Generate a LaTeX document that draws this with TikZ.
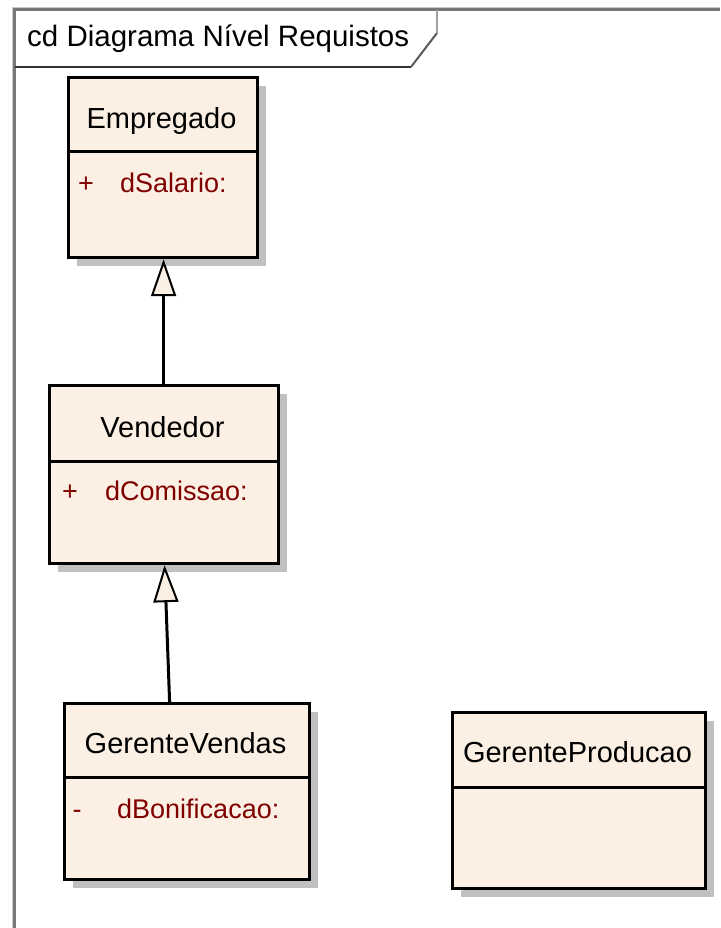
\documentclass[tikz,border=0pt]{standalone}
\usepackage{fontspec}
\setmainfont{Liberation Sans}
\usetikzlibrary{arrows.meta,shadows}
\definecolor{boxfill}{RGB}{251,240,227}
\definecolor{attrred}{RGB}{128,0,0}
\definecolor{shadowgrey}{RGB}{192,192,192}
\definecolor{framegrey}{RGB}{120,120,120}
\begin{document}
\begin{tikzpicture}[x=1pt,y=-1pt,
  classbox/.style={draw=black, line width=3.2pt, fill=boxfill, anchor=north west, inner sep=0pt,
     drop shadow={shadow xshift=8pt, shadow yshift=-8pt, fill=shadowgrey, opacity=1}},
  divider/.style={draw=black, line width=3pt},
  titletext/.style={font=\fontsize{29}{31}\selectfont, anchor=base, inner sep=0pt, text=black},
  attrtext/.style={font=\fontsize{27}{29}\selectfont, anchor=base west, inner sep=0pt, text=attrred},
  vistext/.style={font=\fontsize{27}{29}\selectfont, anchor=base, inner sep=0pt, text=attrred},
  gen/.style={draw=black, line width=3pt, -{Triangle[open, fill=boxfill, width=25pt, length=37pt, line width=2pt]}},
]
\useasboundingbox (0,0) rectangle (720,928);
\fill[white] (0,0) rectangle (720,928);
% frame
\draw[framegrey!40, line width=1.5pt] (12.5,928) -- (12.5,7.5) -- (720,7.5);
\draw[framegrey, line width=2.2pt] (14.5,928) -- (14.5,9.5) -- (720,9.5);
\draw[black!80, line width=2.4pt] (14.5,67) -- (411,67);
\draw[black!65, line width=2pt] (411,67) -- (437,33);
\draw[framegrey!70, line width=2.4pt] (437,33) -- (437,10);
\node[font=\fontsize{29.5}{31}\selectfont, anchor=base west, inner sep=0pt] (hdr) at (27,47) {cd Diagrama Nível Requistos};

% Empregado
\node[classbox, minimum width=189pt, minimum height=180pt] (emp) at (67,76) {};
\draw[divider] (67,152) -- (256,152);
\node[titletext] (empT) at (161.5,129) {Empregado};
\node[vistext] (empV) at (86,193) {+};
\node[attrtext] (empA) at (120,193) {dSalario:};

% Vendedor
\node[classbox, minimum width=229pt, minimum height=178pt] (vend) at (48,384) {};
\draw[divider] (48,461) -- (277,461);
\node[titletext] (vendT) at (162.5,437) {Vendedor};
\node[vistext] (vendV) at (70,500) {+};
\node[attrtext] (vendA) at (105,500) {dComissao:};

% GerenteVendas
\node[classbox, minimum width=245pt, minimum height=176pt] (gv) at (63,702) {};
\draw[divider] (63,777) -- (308,777);
\node[titletext] (gvT) at (185.5,753) {GerenteVendas};
\node[vistext] (gvV) at (77,818) {-};
\node[attrtext] (gvA) at (117,818) {dBonificacao:};

% GerenteProducao
\node[classbox, minimum width=253pt, minimum height=176pt] (gp) at (451,711) {};
\draw[divider] (451,787) -- (704,787);
\node[titletext] (gpT) at (577.5,762) {GerenteProducao};

% generalizations
\draw[gen] ([xshift=-0.5pt]vend.north) -- ([xshift=0.5pt]emp.south);
\draw[gen] ([xshift=-17.5pt]gv.north) -- ([xshift=0.5pt]vend.south);
\end{tikzpicture}
\end{document}
